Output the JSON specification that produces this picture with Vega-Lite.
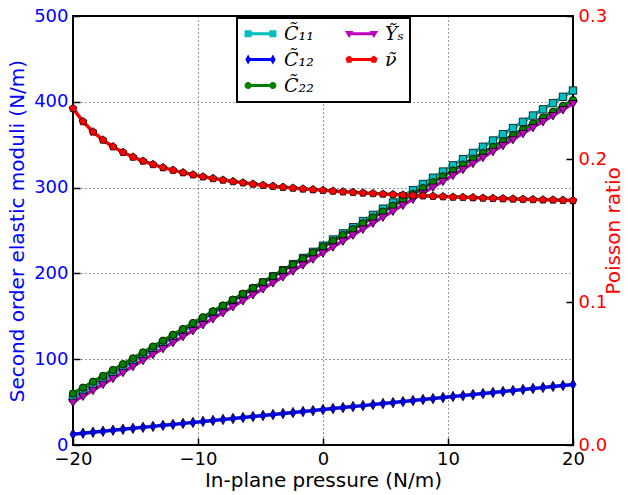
{
  "$schema": "https://vega.github.io/schema/vega-lite/v6.json",
  "width": 500,
  "height": 429,
  "autosize": "none",
  "padding": {"left": 73, "top": 16, "right": 55, "bottom": 50},
  "background": "white",
  "config": {
    "view": {"stroke": "black", "strokeWidth": 2},
    "font": "DejaVu Sans",
    "axis": {
      "labelFont": "DejaVu Sans",
      "labelFontSize": 18,
      "titleFont": "DejaVu Sans",
      "titleFontSize": 20,
      "titleFontWeight": "normal",
      "domain": false,
      "tickColor": "black",
      "tickWidth": 1.5,
      "tickSize": -7,
      "labelPadding": 12,
      "labelFlush": false,
      "labelOverlap": false,
      "gridColor": "black",
      "gridDash": [1, 3],
      "gridOpacity": 0.8,
      "gridWidth": 1
    }
  },
  "data": {
    "values": [
      {"x": -20, "C11": 54.7, "C12": 12.6, "C22": 60.0, "Ys": 50.0, "nu": 0.2354},
      {"x": -19.2, "C11": 61.7, "C12": 13.8, "C22": 66.8, "Ys": 57.0, "nu": 0.2262},
      {"x": -18.4, "C11": 68.8, "C12": 14.9, "C22": 73.7, "Ys": 63.9, "nu": 0.2190},
      {"x": -17.6, "C11": 75.8, "C12": 16.0, "C22": 80.5, "Ys": 70.9, "nu": 0.2133},
      {"x": -16.8, "C11": 82.9, "C12": 17.2, "C22": 87.4, "Ys": 77.8, "nu": 0.2086},
      {"x": -16, "C11": 90.0, "C12": 18.3, "C22": 94.2, "Ys": 84.8, "nu": 0.2047},
      {"x": -15.2, "C11": 97.0, "C12": 19.4, "C22": 101.0, "Ys": 91.8, "nu": 0.2014},
      {"x": -14.4, "C11": 104.1, "C12": 20.6, "C22": 107.9, "Ys": 98.7, "nu": 0.1986},
      {"x": -13.6, "C11": 111.2, "C12": 21.7, "C22": 114.7, "Ys": 105.7, "nu": 0.1962},
      {"x": -12.8, "C11": 118.3, "C12": 22.9, "C22": 121.6, "Ys": 112.6, "nu": 0.1940},
      {"x": -12, "C11": 125.4, "C12": 24.0, "C22": 128.4, "Ys": 119.6, "nu": 0.1922},
      {"x": -11.2, "C11": 132.5, "C12": 25.2, "C22": 135.2, "Ys": 126.6, "nu": 0.1905},
      {"x": -10.4, "C11": 139.5, "C12": 26.3, "C22": 142.1, "Ys": 133.5, "nu": 0.1890},
      {"x": -9.6, "C11": 146.7, "C12": 27.5, "C22": 148.9, "Ys": 140.5, "nu": 0.1876},
      {"x": -8.8, "C11": 153.8, "C12": 28.6, "C22": 155.8, "Ys": 147.4, "nu": 0.1864},
      {"x": -8, "C11": 160.9, "C12": 29.8, "C22": 162.6, "Ys": 154.4, "nu": 0.1853},
      {"x": -7.2, "C11": 168.0, "C12": 30.9, "C22": 169.4, "Ys": 161.4, "nu": 0.1843},
      {"x": -6.4, "C11": 175.1, "C12": 32.1, "C22": 176.3, "Ys": 168.3, "nu": 0.1834},
      {"x": -5.6, "C11": 182.2, "C12": 33.2, "C22": 183.1, "Ys": 175.3, "nu": 0.1825},
      {"x": -4.8, "C11": 189.4, "C12": 34.4, "C22": 190.0, "Ys": 182.2, "nu": 0.1817},
      {"x": -4, "C11": 196.5, "C12": 35.5, "C22": 196.8, "Ys": 189.2, "nu": 0.1810},
      {"x": -3.2, "C11": 203.7, "C12": 36.7, "C22": 203.6, "Ys": 196.2, "nu": 0.1803},
      {"x": -2.4, "C11": 210.8, "C12": 37.8, "C22": 210.5, "Ys": 203.1, "nu": 0.1797},
      {"x": -1.6, "C11": 218.0, "C12": 39.0, "C22": 217.3, "Ys": 210.1, "nu": 0.1791},
      {"x": -0.8, "C11": 225.1, "C12": 40.1, "C22": 224.2, "Ys": 217.0, "nu": 0.1786},
      {"x": 0, "C11": 232.3, "C12": 41.3, "C22": 231.0, "Ys": 224.0, "nu": 0.1781},
      {"x": 0.8, "C11": 239.5, "C12": 42.5, "C22": 237.8, "Ys": 231.0, "nu": 0.1776},
      {"x": 1.6, "C11": 246.6, "C12": 43.6, "C22": 244.7, "Ys": 237.9, "nu": 0.1771},
      {"x": 2.4, "C11": 253.8, "C12": 44.8, "C22": 251.5, "Ys": 244.9, "nu": 0.1767},
      {"x": 3.2, "C11": 261.0, "C12": 45.9, "C22": 258.4, "Ys": 251.8, "nu": 0.1763},
      {"x": 4, "C11": 268.2, "C12": 47.1, "C22": 265.2, "Ys": 258.8, "nu": 0.1759},
      {"x": 4.8, "C11": 275.4, "C12": 48.3, "C22": 272.0, "Ys": 265.8, "nu": 0.1755},
      {"x": 5.6, "C11": 282.6, "C12": 49.4, "C22": 278.9, "Ys": 272.7, "nu": 0.1752},
      {"x": 6.4, "C11": 289.8, "C12": 50.6, "C22": 285.7, "Ys": 279.7, "nu": 0.1749},
      {"x": 7.2, "C11": 297.0, "C12": 51.8, "C22": 292.6, "Ys": 286.6, "nu": 0.1745},
      {"x": 8, "C11": 304.2, "C12": 53.0, "C22": 299.4, "Ys": 293.6, "nu": 0.1743},
      {"x": 8.8, "C11": 311.5, "C12": 54.1, "C22": 306.2, "Ys": 300.6, "nu": 0.1740},
      {"x": 9.6, "C11": 318.7, "C12": 55.3, "C22": 313.1, "Ys": 307.5, "nu": 0.1737},
      {"x": 10.4, "C11": 325.9, "C12": 56.5, "C22": 319.9, "Ys": 314.5, "nu": 0.1734},
      {"x": 11.2, "C11": 333.2, "C12": 57.6, "C22": 326.8, "Ys": 321.4, "nu": 0.1732},
      {"x": 12, "C11": 340.4, "C12": 58.8, "C22": 333.6, "Ys": 328.4, "nu": 0.1730},
      {"x": 12.8, "C11": 347.6, "C12": 60.0, "C22": 340.4, "Ys": 335.4, "nu": 0.1727},
      {"x": 13.6, "C11": 354.9, "C12": 61.2, "C22": 347.3, "Ys": 342.3, "nu": 0.1725},
      {"x": 14.4, "C11": 362.2, "C12": 62.3, "C22": 354.1, "Ys": 349.3, "nu": 0.1723},
      {"x": 15.2, "C11": 369.4, "C12": 63.5, "C22": 361.0, "Ys": 356.2, "nu": 0.1721},
      {"x": 16, "C11": 376.7, "C12": 64.7, "C22": 367.8, "Ys": 363.2, "nu": 0.1719},
      {"x": 16.8, "C11": 384.0, "C12": 65.9, "C22": 374.6, "Ys": 370.2, "nu": 0.1717},
      {"x": 17.6, "C11": 391.2, "C12": 67.1, "C22": 381.5, "Ys": 377.1, "nu": 0.1715},
      {"x": 18.4, "C11": 398.5, "C12": 68.3, "C22": 388.3, "Ys": 384.1, "nu": 0.1714},
      {"x": 19.2, "C11": 405.8, "C12": 69.4, "C22": 395.2, "Ys": 391.0, "nu": 0.1712},
      {"x": 20, "C11": 413.1, "C12": 70.6, "C22": 402.0, "Ys": 398.0, "nu": 0.1710}
    ]
  },
  "resolve": {"scale": {"y": "independent"}},
  "encoding": {
    "x": {
      "field": "x",
      "type": "quantitative",
      "scale": {"domain": [-20, 20], "nice": false},
      "axis": {"values": [-20, -10, 0, 10, 20], "title": "In-plane pressure (N/m)", "grid": true, "titlePadding": 2}
    },
    "color": {
      "field": "series",
      "type": "nominal",
      "scale": {
        "domain": ["C11", "C12", "C22", "Ys", "nu"],
        "range": ["#00BFBF", "#0000FF", "#008000", "#BF00BF", "#FF0000"]
      },
      "legend": {
        "title": null,
        "orient": "none",
        "legendX": 164,
        "legendY": 2,
        "columns": 2,
        "gridAlign": "each",
        "symbolSize": 50,
        "symbolOffset": 8,
        "labelOffset": 14,
        "labelFont": "DejaVu Serif",
        "labelFontStyle": "italic",
        "labelFontSize": 19,
        "labelColor": "black",
        "labelExpr": "datum.label === 'C11' ? 'C\u0303\u2081\u2081' : datum.label === 'C12' ? 'C\u0303\u2081\u2082' : datum.label === 'C22' ? 'C\u0303\u2082\u2082' : datum.label === 'Ys' ? 'Y\u0303\u209b' : '\u03bd\u0303'",
        "strokeColor": "black",
        "fillColor": "white",
        "padding": 6,
        "rowPadding": 6,
        "columnPadding": 30,
        "encode": {
          "legend": {"update": {"strokeWidth": {"value": 2}}},
          "symbols": {
            "update": {
              "shape": {"signal": "datum.value === 'C11' ? 'M-3.5,-0.45L3.5,-0.45L3.5,0.45L-3.5,0.45Z M-4.5,-1L-2.5,-1L-2.5,1L-4.5,1Z M2.5,-1L4.5,-1L4.5,1L2.5,1Z' : datum.value === 'C12' ? 'M-3.5,-0.45L3.5,-0.45L3.5,0.45L-3.5,0.45Z M-3.5,-1.4L-2.7,0L-3.5,1.4L-4.3,0Z M3.5,-1.4L4.3,0L3.5,1.4L2.7,0Z' : datum.value === 'C22' ? 'M-3.5,-0.45L3.5,-0.45L3.5,0.45L-3.5,0.45Z M-4.5,0A1,1 0 1,1 -2.5,0A1,1 0 1,1 -4.5,0Z M2.5,0A1,1 0 1,1 4.5,0A1,1 0 1,1 2.5,0Z' : datum.value === 'Ys' ? 'M-3.5,-0.45L3.5,-0.45L3.5,0.45L-3.5,0.45Z M-4.7,-0.8L-2.3,-0.8L-3.5,1.2Z M2.3,-0.8L4.7,-0.8L3.5,1.2Z' : 'M-3.5,-0.45L3.5,-0.45L3.5,0.45L-3.5,0.45Z M-3.5,-1.1L-2.45,-0.34L-2.85,0.89L-4.15,0.89L-4.55,-0.34Z M3.5,-1.1L4.55,-0.34L4.15,0.89L2.85,0.89L2.45,-0.34Z'"},
              "fill": {"signal": "scale('color', datum.value)"},
              "stroke": {"value": "transparent"},
              "strokeWidth": {"value": 0},
              "opacity": {"value": 1},
              "size": {"value": 50}
            }
          }
        }
      }
    }
  },
  "layer": [
    {
      "transform": [{"fold": ["C11", "C12", "C22", "Ys"], "as": ["series", "value"]}],
      "encoding": {
        "y": {
          "field": "value",
          "type": "quantitative",
          "scale": {"domain": [0, 500], "nice": false},
          "axis": {
            "orient": "left",
            "values": [0, 100, 200, 300, 400, 500],
            "title": "Second order elastic moduli (N/m)",
            "titleColor": "#0000FF",
            "labelColor": "#0000FF",
            "grid": true,
            "titlePadding": 6
          }
        }
      },
      "layer": [
        {"mark": {"type": "line", "strokeWidth": 3.5}, "encoding": {}},
        {
          "transform": [{"filter": "datum.series === 'C11'"}],
          "mark": {"type": "point", "shape": "square", "filled": true, "opacity": 1, "stroke": "black", "strokeWidth": 0.8, "size": 55}
        },
        {
          "transform": [{"filter": "datum.series === 'C12'"}],
          "mark": {"type": "point", "shape": "M0,-1.4L0.8,0L0,1.4L-0.8,0Z", "filled": true, "opacity": 1, "stroke": "black", "strokeWidth": 0.8, "size": 55}
        },
        {
          "transform": [{"filter": "datum.series === 'C22'"}],
          "mark": {"type": "point", "shape": "circle", "filled": true, "opacity": 1, "stroke": "black", "strokeWidth": 0.8, "size": 55}
        },
        {
          "transform": [{"filter": "datum.series === 'Ys'"}],
          "mark": {"type": "point", "shape": "M-1.2,-0.8L1.2,-0.8L0,1.2Z", "filled": true, "opacity": 1, "stroke": "black", "strokeWidth": 0.8, "size": 55}
        }
      ]
    },
    {
      "transform": [{"fold": ["nu"], "as": ["series", "value"]}],
      "encoding": {
        "y": {
          "field": "value",
          "type": "quantitative",
          "scale": {"domain": [0, 0.3], "nice": false},
          "axis": {
            "orient": "right",
            "values": [0, 0.1, 0.2, 0.3],
            "format": ".1f",
            "title": "Poisson ratio",
            "titleColor": "#FF0000",
            "labelColor": "#FF0000",
            "grid": false,
            "titleAngle": 270,
            "titlePadding": 17
          }
        }
      },
      "layer": [
        {"mark": {"type": "line", "strokeWidth": 3.5}, "encoding": {}},
        {
          "mark": {"type": "point", "shape": "M0,-1.1L1.05,-0.34L0.65,0.89L-0.65,0.89L-1.05,-0.34Z", "filled": true, "opacity": 1, "stroke": "black", "strokeWidth": 0.8, "size": 55}
        }
      ]
    }
  ]
}
